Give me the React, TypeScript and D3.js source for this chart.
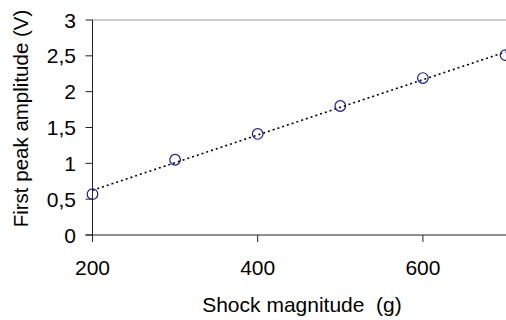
import React from "react";
import * as d3 from "d3";

const shock = [200, 300, 400, 500, 600, 700];
const amplitude = [0.57, 1.05, 1.41, 1.8, 2.19, 2.51];
const xTicks = [200, 400, 600];
const yTicks = [0, 0.5, 1, 1.5, 2, 2.5, 3];

export default function App() {
  const W = 506, H = 320;
  const left = 92.5, right = 505.5, top = 20, bottom = 235;
  const x = d3.scaleLinear().domain([200, 700]).range([left, right]);
  const y = d3.scaleLinear().domain([0, 3]).range([bottom, top]);
  const mx = d3.mean(shock)!, my = d3.mean(amplitude)!;
  let sxy = 0, sxx = 0;
  shock.forEach((s, i) => { sxy += (s - mx) * (amplitude[i] - my); sxx += (s - mx) ** 2; });
  const slope = sxy / sxx, icpt = my - slope * mx;
  const line = d3.line<number>().x(d => x(d)).y(d => y(icpt + slope * d));
  const fmt = (v: number) => String(v).replace(".", ",");
  const font = "'Liberation Sans', Arial, sans-serif";
  const fs = 21;
  return (
    <svg width={W} height={H} style={{ position: "absolute", left: 0, top: 0 }} fontFamily={font}>
      <rect width={W} height={H} fill="#fff" />
      <line x1={left} x2={W} y1={top} y2={top} stroke="#999" strokeWidth={1.2} />
      <line x1={left} x2={left} y1={top} y2={bottom + 7} stroke="#222" strokeWidth={1} />
      <line x1={left - 7} x2={W} y1={bottom} y2={bottom} stroke="#222" strokeWidth={1} />
      {yTicks.map(t => (
        <g key={t}>
          <line x1={left - 7} x2={left} y1={y(t)} y2={y(t)} stroke="#222" />
          <text x={76} y={y(t) + 7.5} textAnchor="end" fontSize={fs} fill="#000">{fmt(t)}</text>
        </g>
      ))}
      {xTicks.map(t => (
        <g key={t}>
          <line x1={x(t)} x2={x(t)} y1={bottom} y2={bottom + 7} stroke="#222" />
          <text x={x(t)} y={275} textAnchor="middle" fontSize={fs} fill="#000">{t}</text>
        </g>
      ))}
      <path d={line([200, 700]) || ""} fill="none" stroke="#000" strokeWidth={1.6} strokeDasharray="2,3" />
      {shock.map((s, i) => (
        <circle key={s} cx={x(s)} cy={y(amplitude[i])} r={5.3} fill="none" stroke="#1a1a9a" strokeWidth={1.2} />
      ))}
      <text x={302} y={311.5} textAnchor="middle" fontSize={fs} fill="#000" style={{ whiteSpace: "pre" }}>{"Shock magnitude  (g)"}</text>
      <text transform={`translate(28.3,118.5) rotate(-90)`} textAnchor="middle" fontSize={20.5} fill="#000">First peak amplitude (V)</text>
    </svg>
  );
}
